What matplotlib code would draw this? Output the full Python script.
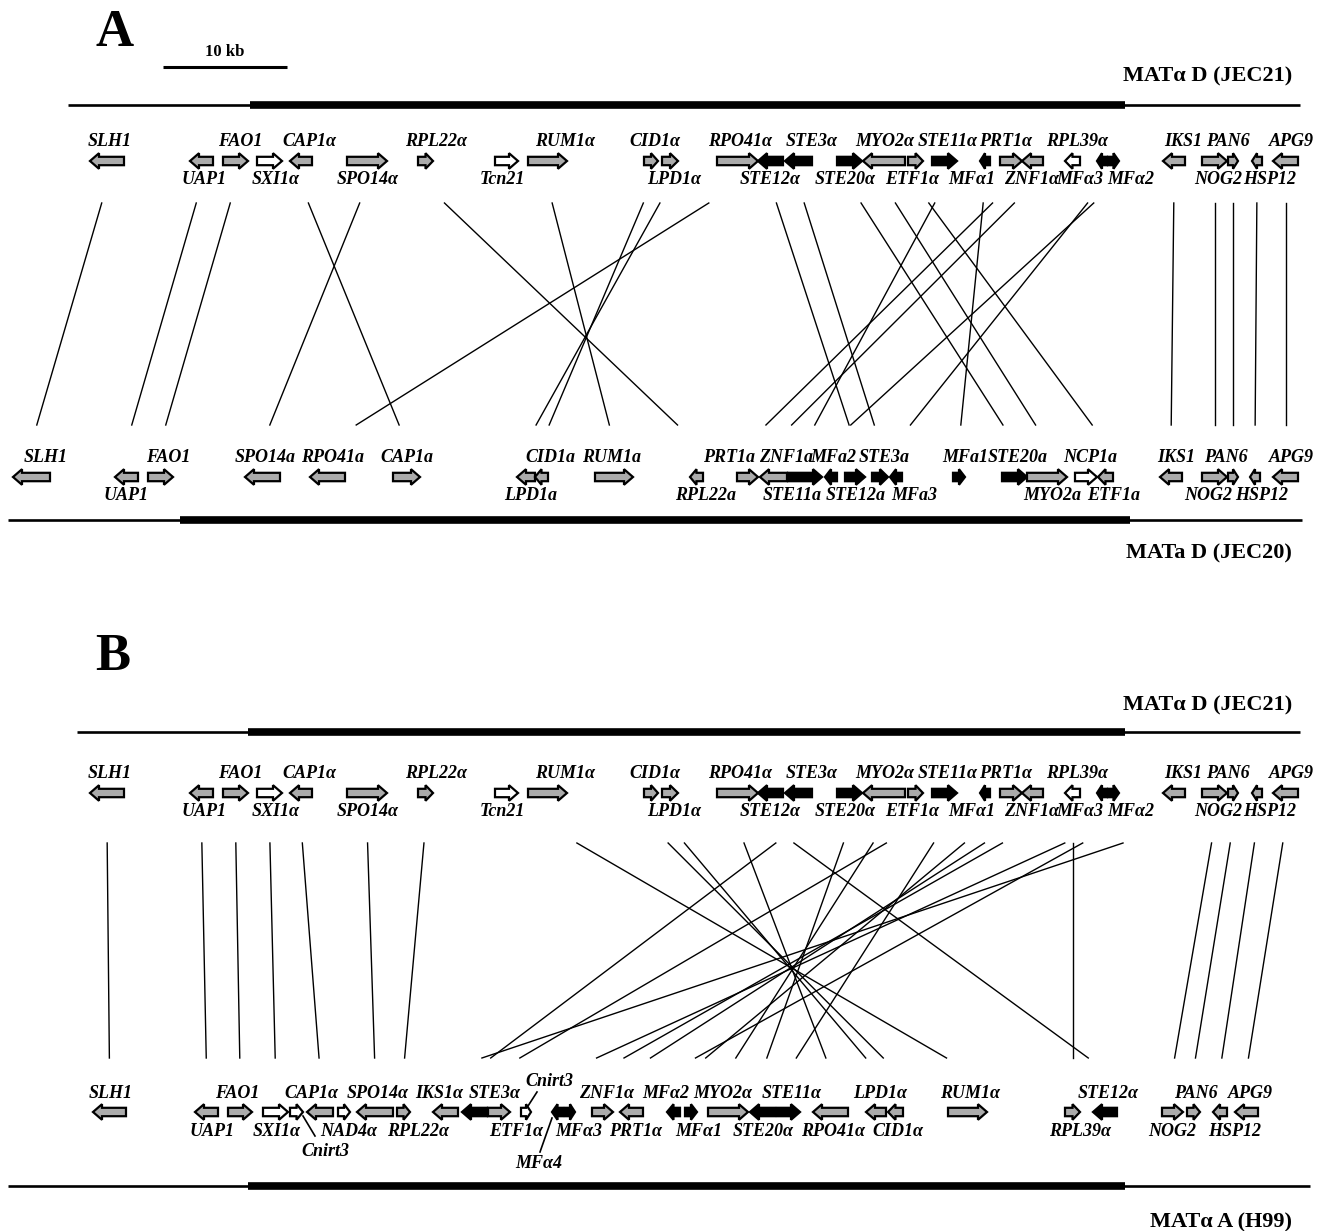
import matplotlib
matplotlib.use("Agg")
import matplotlib.pyplot as plt
from matplotlib.patches import Polygon

# ---------------- data ----------------
# JEC21 (MATalpha D) track: gene names, start, end (end<start => leftward), kind, label side
jec21_names = ["SLH1", "UAP1", "FAO1", "SXI1α", "CAP1α", "SPO14α", "RPL22α", "Tcn21", "RUM1α",
               "CID1α", "LPD1α", "RPO41α", "STE12α", "STE3α", "STE20α", "MYO2α", "ETF1α",
               "STE11α", "MFα1", "PRT1α", "ZNF1α", "RPL39α", "MFα3", "MFα2",
               "IKS1", "NOG2", "PAN6", "HSP12", "APG9"]
jec21_start = [124, 213, 223, 257, 312, 347, 418, 495, 528, 644, 662, 717, 783, 812, 837, 905, 908,
               932, 990, 1000, 1043, 1080, 1107, 1108, 1185, 1202, 1228, 1262, 1298]
jec21_end = [90, 190, 248, 282, 290, 387, 433, 518, 567, 658, 678, 758, 758, 785, 862, 863, 923,
             957, 980, 1022, 1022, 1065, 1097, 1119, 1163, 1227, 1238, 1252, 1273]
jec21_kind = ["g", "g", "g", "w", "g", "g", "g", "w", "g", "g", "g", "g", "b", "b", "b", "g", "g",
              "b", "b", "g", "g", "w", "b", "b", "g", "g", "g", "g", "g"]
jec21_side = ["u", "d", "u", "d", "u", "d", "u", "d", "u", "u", "d", "u", "d", "u", "d", "u", "d",
              "u", "d", "u", "d", "u", "d", "d", "u", "d", "u", "d", "u"]
jec21_label_x = [110, 204, 240, 276, 309, 368, 436, 502, 565, 655, 674, 740, 770, 812, 845, 885, 912,
                 948, 972, 1006, 1032, 1077, 1080, 1131, 1183, 1218, 1228, 1270, 1291]

# JEC20 (MATa D) track
jec20_names = ["SLH1", "UAP1", "FAO1", "SPO14a", "RPO41a", "CAP1a", "LPD1a", "CID1a", "RUM1a",
               "RPL22a", "PRT1a", "ZNF1a", "STE11a", "MFa2", "STE12a", "STE3a", "MFa3", "MFa1",
               "STE20a", "MYO2a", "NCP1a", "ETF1a", "IKS1", "NOG2", "PAN6", "HSP12", "APG9"]
jec20_start = [50, 138, 148, 280, 345, 393, 535, 548, 595, 703, 737, 787, 788, 837, 845, 872, 902, 953,
               1002, 1027, 1075, 1113, 1182, 1202, 1228, 1260, 1298]
jec20_end = [13, 115, 173, 245, 310, 420, 517, 535, 633, 690, 758, 760, 822, 825, 865, 888, 890, 965,
             1027, 1067, 1097, 1098, 1160, 1227, 1238, 1250, 1273]
jec20_kind = ["g", "g", "g", "g", "g", "g", "g", "g", "g", "g", "g", "g", "b", "b", "b", "b", "b", "b",
              "b", "g", "w", "g", "g", "g", "g", "g", "g"]
jec20_side = ["u", "d", "u", "u", "u", "u", "d", "u", "u", "d", "u", "u", "d", "u", "d", "u", "d", "u",
              "u", "d", "u", "d", "u", "d", "u", "d", "u"]
jec20_label_x = [46, 126, 168, 265, 333, 407, 531, 550, 612, 706, 729, 786, 792, 833, 856, 884, 914,
                 965, 1018, 1052, 1090, 1114, 1176, 1208, 1226, 1262, 1291]

# H99 (MATalpha A) track
h99_names = ["SLH1", "UAP1", "FAO1", "SXI1α", "Cnirt3", "CAP1α", "NAD4α", "SPO14α", "RPL22α",
             "IKS1α", "STE3α", "ETF1α", "Cnirt3b", "MFα4", "MFα3", "ZNF1α", "PRT1α", "MFα2", "MFα1",
             "MYO2α", "STE20α", "STE11α", "RPO41α", "LPD1α", "CID1α", "RUM1α", "RPL39α", "STE12α",
             "NOG2", "PAN6", "HSP12", "APG9"]
h99_start = [126, 218, 228, 263, 290, 333, 338, 393, 397, 458, 487, 488, 521, 563, 565, 592, 643, 680,
             685, 708, 775, 777, 848, 886, 903, 948, 1065, 1117, 1162, 1187, 1227, 1258]
h99_end = [93, 195, 252, 288, 303, 307, 350, 357, 410, 433, 462, 510, 531, 552, 575, 613, 620, 667,
           697, 748, 750, 800, 813, 866, 888, 987, 1080, 1093, 1183, 1200, 1213, 1235]
h99_kind = ["g", "g", "g", "w", "w", "g", "w", "g", "g", "g", "b", "g", "w", "b", "b", "g", "g", "b",
            "b", "g", "b", "b", "g", "g", "g", "g", "g", "b", "g", "g", "g", "g"]
h99_side = ["u", "d", "u", "d", "n", "u", "d", "u", "d", "u", "u", "d", "n", "n", "d", "u", "d", "u",
            "d", "u", "d", "u", "d", "u", "d", "u", "d", "u", "d", "u", "d", "u"]
h99_label_x = [111, 212, 237, 277, 0, 311, 349, 378, 418, 439, 495, 516, 0, 0, 579, 607, 636, 666,
               699, 723, 763, 792, 833, 880, 898, 970, 1080, 1108, 1172, 1196, 1235, 1250]

# Synteny links (top gene -> bottom gene)
links_A = [("SLH1", "SLH1"), ("UAP1", "UAP1"), ("FAO1", "FAO1"), ("CAP1α", "CAP1a"),
           ("SPO14α", "SPO14a"), ("RPL22α", "RPL22a"), ("RUM1α", "RUM1a"), ("CID1α", "CID1a"),
           ("LPD1α", "LPD1a"), ("RPO41α", "RPO41a"), ("STE12α", "STE12a"), ("STE3α", "STE3a"),
           ("STE20α", "STE20a"), ("MYO2α", "MYO2a"), ("ETF1α", "ETF1a"), ("STE11α", "STE11a"),
           ("MFα1", "MFa1"), ("PRT1α", "PRT1a"), ("ZNF1α", "ZNF1a"), ("MFα3", "MFa3"),
           ("MFα2", "MFa2"), ("IKS1", "IKS1"), ("NOG2", "NOG2"), ("PAN6", "PAN6"),
           ("HSP12", "HSP12"), ("APG9", "APG9")]
links_B = [("SLH1", "SLH1"), ("UAP1", "UAP1"), ("FAO1", "FAO1"), ("SXI1α", "SXI1α"),
           ("CAP1α", "CAP1α"), ("SPO14α", "SPO14α"), ("RPL22α", "RPL22α"), ("RUM1α", "RUM1α"),
           ("CID1α", "CID1α"), ("LPD1α", "LPD1α"), ("RPO41α", "RPO41α"), ("STE12α", "STE12α"),
           ("STE3α", "STE3α"), ("STE20α", "STE20α"), ("MYO2α", "MYO2α"), ("ETF1α", "ETF1α"),
           ("STE11α", "STE11α"), ("MFα1", "MFα1"), ("PRT1α", "PRT1α"), ("ZNF1α", "ZNF1α"),
           ("RPL39α", "RPL39α"), ("MFα3", "MFα3"), ("MFα2", "MFα2"), ("IKS1", "IKS1α"),
           ("NOG2", "NOG2"), ("PAN6", "PAN6"), ("HSP12", "HSP12"), ("APG9", "APG9")]

# chromosome segments: (thin start, thick start, thick end, thin end)
chrom_A_top = (68, 250, 1125, 1300)
chrom_A_bot = (8, 180, 1130, 1302)
chrom_B_top = (77, 248, 1125, 1300)
chrom_B_bot = (8, 248, 1125, 1310)

# ---------------- drawing ----------------
W, H = 1328, 1231
fig = plt.figure(figsize=(W / 100, H / 100), dpi=100)
ax = fig.add_axes([0, 0, 1, 1])
ax.set_xlim(0, W)
ax.set_ylim(H, 0)
ax.axis("off")

SERIF = ["Liberation Serif", "DejaVu Serif"]
FILL = {"g": "#ababab", "w": "white", "b": "black"}
LAB_FS = 13


def draw_arrow(x0, x1, y, kind):
    d = 1 if x1 > x0 else -1
    L = abs(x1 - x0)
    hl = min(9.0, 0.5 * L)
    hb, hh = 4.2, 7.8
    xb = x1 - d * hl
    pts = [(x0, y - hb), (xb, y - hb), (xb, y - hh), (x1, y), (xb, y + hh), (xb, y + hb), (x0, y + hb)]
    ax.add_patch(Polygon(pts, closed=True, fc=FILL[kind], ec="black", lw=1.6, joinstyle="miter", zorder=3))


def draw_track(names, start, end, kind, side, lab_x, y):
    pos = {}
    for n, s, e, k, sd, lx in zip(names, start, end, kind, side, lab_x):
        draw_arrow(s, e, y, k)
        pos[n] = (s + e) / 2.0
        if sd in ("u", "d"):
            ax.text(lx, y - 19 if sd == "u" else y + 19, n, ha="center", va="center", fontsize=LAB_FS,
                    family=SERIF, fontweight="bold", fontstyle="italic")
    return pos


def draw_chrom(seg, y):
    a, b, c, d = seg
    ax.plot([a, d], [y, y], color="black", lw=1.9, solid_capstyle="butt", zorder=2)
    ax.plot([b, c], [y, y], color="black", lw=5.5, solid_capstyle="butt", zorder=2)


def draw_links(links, ptop, pbot, y0, y1, f0, f1):
    for t, b in links:
        xt, xb = ptop[t], pbot[b]
        ax.plot([xt + f0 * (xb - xt), xt + f1 * (xb - xt)], [y0, y1], color="black", lw=1.0, zorder=1)


title_kw = dict(fontsize=16, family=SERIF, fontweight="bold", ha="right", va="center")

# Panel A
ax.text(95, 33, "A", fontsize=38, family=SERIF, fontweight="bold", ha="left", va="center")
ax.plot([163, 287], [67, 67], color="black", lw=2.2, solid_capstyle="butt")
ax.text(225, 52, "10 kb", fontsize=12, family=SERIF, fontweight="bold", ha="center", va="center")
ax.text(1292, 76, "MATα D (JEC21)", **title_kw)
draw_chrom(chrom_A_top, 105)
pA_top = draw_track(jec21_names, jec21_start, jec21_end, jec21_kind, jec21_side, jec21_label_x, 161)
pA_bot = draw_track(jec20_names, jec20_start, jec20_end, jec20_kind, jec20_side, jec20_label_x, 477)
draw_chrom(chrom_A_bot, 520)
ax.text(1292, 553, "MATa D (JEC20)", **title_kw)
draw_links(links_A, pA_top, pA_bot, 203, 425, 0.07, 0.93)

# Panel B
ax.text(95, 657, "B", fontsize=38, family=SERIF, fontweight="bold", ha="left", va="center")
ax.text(1292, 705, "MATα D (JEC21)", **title_kw)
draw_chrom(chrom_B_top, 732)
pB_top = draw_track(jec21_names, jec21_start, jec21_end, jec21_kind, jec21_side, jec21_label_x, 793)
pB_bot = draw_track(h99_names, h99_start, h99_end, h99_kind, h99_side, h99_label_x, 1112)
draw_chrom(chrom_B_bot, 1186)
ax.text(1292, 1222, "MATα A (H99)", **title_kw)
draw_links(links_B, pB_top, pB_bot, 843, 1058, 0.07, 0.95)

# leader-labelled genes on H99
lab_kw = dict(fontsize=LAB_FS, family=SERIF, fontweight="bold", fontstyle="italic", ha="center", va="center")
ax.plot([303, 315], [1116, 1136], color="black", lw=1.2)
ax.text(325, 1152, "Cnirt3", **lab_kw)
ax.plot([537, 528], [1092, 1106], color="black", lw=1.2)
ax.text(549, 1081, "Cnirt3", **lab_kw)
ax.plot([540, 552], [1152, 1118], color="black", lw=1.2)
ax.text(539, 1163, "MFα4", **lab_kw)

fig.savefig("out.png", dpi=100)
